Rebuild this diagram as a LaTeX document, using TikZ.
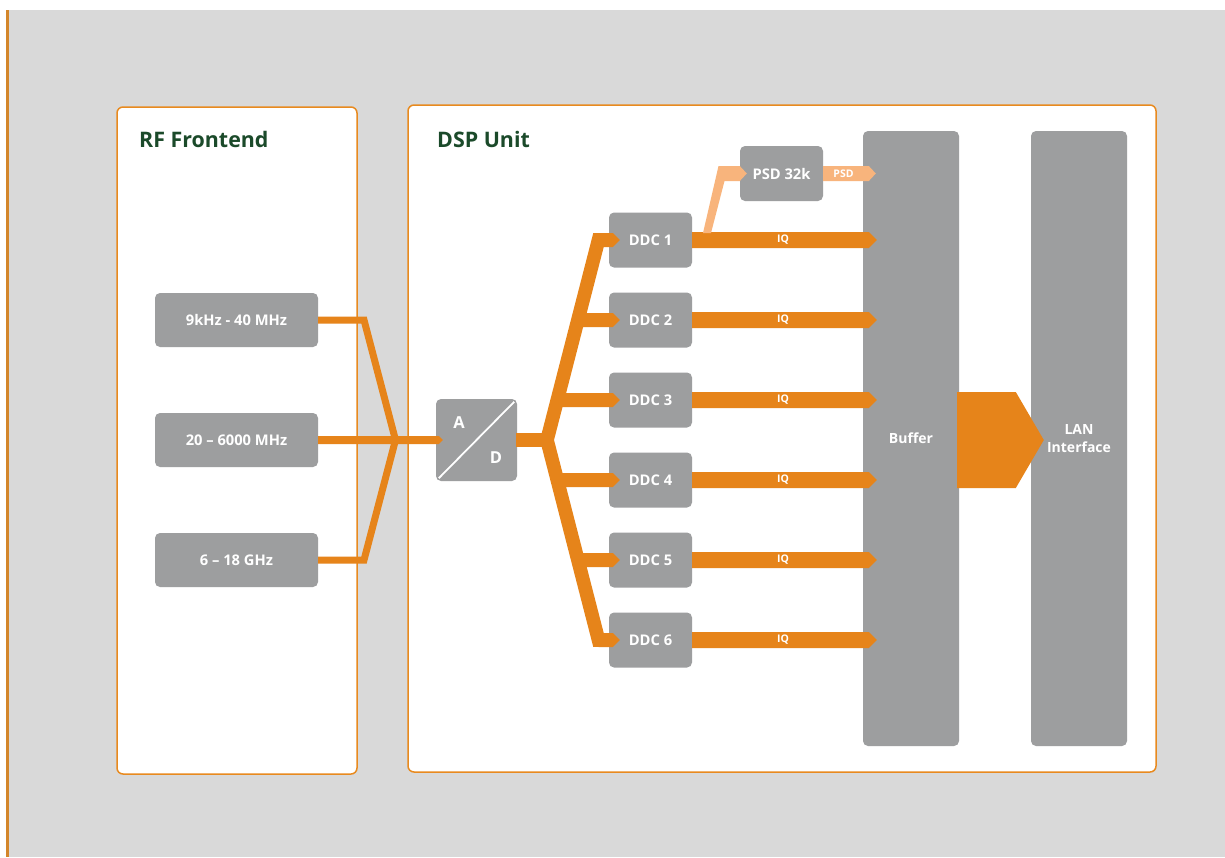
\documentclass[tikz,border=0pt]{standalone}
\usepackage{fontspec}
\setmainfont{Open Sans}
\usetikzlibrary{calc}
\definecolor{bggrey}{HTML}{D9D9D9}
\definecolor{panelor}{HTML}{E88A1F}
\definecolor{boxgrey}{HTML}{9D9E9F}
\definecolor{orng}{HTML}{E6841A}
\definecolor{lightor}{HTML}{F8B47C}
\definecolor{titlegreen}{HTML}{1B4A2A}
\definecolor{edgeor}{HTML}{D3862B}
% [colour]{from}{tip}{half width}{tip length}
\newcommand\barrow[5][orng]{%
  \fill[#1] let \p1=(#2), \p2=(#3) in
    (\x1,\y2+#4) -- (\x2-#5,\y2+#4) -- (\x2,\y2) -- (\x2-#5,\y2-#4) -- (\x1,\y2-#4) -- cycle;}
\tikzset{
  panel/.style={draw=panelor, line width=1.5pt, fill=white, rounded corners=6pt, inner sep=0pt},
  paneltitle/.style={text=titlegreen, font=\bfseries\fontsize{21.4}{25}\selectfont, inner sep=0pt},
  box/.style={fill=boxgrey, rounded corners=5pt, inner sep=0pt, text=white,
    font=\bfseries\fontsize{14.7}{17}\selectfont},
  tallbox/.style={box, minimum width=96, minimum height=615,
    font=\bfseries\fontsize{14}{18}\selectfont, align=center},
  ddcbox/.style={box, minimum width=83, minimum height=55},
  rfbox/.style={box, minimum width=163, minimum height=54},
  adletter/.style={text=white, font=\bfseries\fontsize{16.5}{19}\selectfont, inner sep=0pt},
  barlabel/.style={text=white, font=\bfseries\fontsize{10.5}{12}\selectfont, inner sep=0pt},
  fanline/.style={draw=orng, line width=7pt, line join=miter},
  trunk/.style={draw=orng, line width=13.6pt, line join=miter},
}
\begin{document}
\begin{tikzpicture}[x=1pt,y=-1pt]
\useasboundingbox (0,0) rectangle (1225,857);
\fill[white] (0,0) rectangle (1225,857);
\fill[bggrey] (8,10) rectangle (1225,857);
\fill[edgeor] (6,10) rectangle (9,857);

% panels
\node[panel, minimum width=240, minimum height=667] (rfpanel) at (237,440.5) {};
\node[panel, minimum width=748, minimum height=667] (dsppanel) at (782,438.5) {};
\node[paneltitle, anchor=base west] (rftitle) at (139,147) {RF Frontend};
\node[paneltitle, anchor=base west] (dsptitle) at (437,147) {DSP Unit};

% RF boxes
\node[rfbox] (rf1) at (236.5,320) {9kHz - 40 MHz};
\node[rfbox] (rf2) at (236.5,440) {20 – 6000 MHz};
\node[rfbox] (rf3) at (236.5,560) {6 – 18 GHz};

% A/D
\node[box, minimum width=81, minimum height=82] (ad) at (476.5,440) {};
\draw[white, line width=1.8pt] ($(ad.south west)+(3,-3)$) -- ($(ad.north east)+(-3,3)$);
\node[adletter] (adA) at (459,422.5) {A};
\node[adletter] (adD) at (496,458) {D};

% DDCs
\foreach \i/\yy in {1/240,2/320,3/400,4/480,5/560,6/640}
  \node[ddcbox] (ddc\i) at (650.5,\yy) {DDC \i};

\node[ddcbox] (psd) at (781.5,173.5) {PSD 32k};
\node[tallbox] (buf) at (911,438.5) {Buffer};
\node[tallbox] (lan) at (1079,438.5) {LAN\\Interface};

% fan-in from RF frontend
\coordinate (j1) at (364,320);
\coordinate (jn) at (395.5,440);
\coordinate (j3) at (364,560);
\draw[fanline] (rf1.east) -- (j1) -- (jn) -- (j3) -- (rf3.east);
\barrow{rf2.east}{$(ad.west)+(7,0)$}{4}{4}

% A/D output and fork
\coordinate (tt) at (598.5,240);
\coordinate (fk) at (547,440);
\coordinate (tb) at (598.5,640);
\fill[orng] ($(ad.east)+(-1,-7)$) rectangle ($(fk)+(0,7)$);
\draw[trunk] ($(ddc1.west)+(2,0)$) -- (tt) -- (fk) -- (tb) -- ($(ddc6.west)+(2,0)$);
\barrow{tt}{$(ddc1.west)+(11,0)$}{7}{7}
\barrow{$(tt)!0.4!(fk)$}{$(ddc2.west)+(11,0)$}{7}{7}
\barrow{$(tt)!0.8!(fk)$}{$(ddc3.west)+(11,0)$}{7}{7}
\barrow{$(fk)!0.2!(tb)$}{$(ddc4.west)+(11,0)$}{7}{7}
\barrow{$(fk)!0.6!(tb)$}{$(ddc5.west)+(11,0)$}{7}{7}
\barrow{tb}{$(ddc6.west)+(11,0)$}{7}{7}

% IQ outputs
\coordinate (iqcol) at (783,0);
\foreach \i in {1,...,6}{
  \barrow{ddc\i.east}{$(ddc\i.east -| buf.west)+(14,0)$}{8}{8}
  \node[barlabel] (iq\i) at (ddc\i.east -| iqcol) {IQ};
}

% PSD branch
\fill[lightor] (703,233) -- (718.5,166) -- ($(psd.west)+(0,-7.5)$) -- ($(psd.west)+(7,0)$)
  -- ($(psd.west)+(0,7.5)$) -- (724.5,181) -- (711,233) -- cycle;
\barrow[lightor]{psd.east}{$(psd.east -| buf.west)+(13,0)$}{7.5}{7}
\node[barlabel] (psdlbl) at (843.5,173.5) {PSD};

% Buffer to LAN
\fill[orng] ($(buf.east)+(-2,-46.5)$) -- ($(lan.west)+(-15,-46.5)$) -- ($(lan.west)+(13,1.5)$)
  -- ($(lan.west)+(-15,49.5)$) -- ($(buf.east)+(-2,49.5)$) -- cycle;
\end{tikzpicture}
\end{document}
